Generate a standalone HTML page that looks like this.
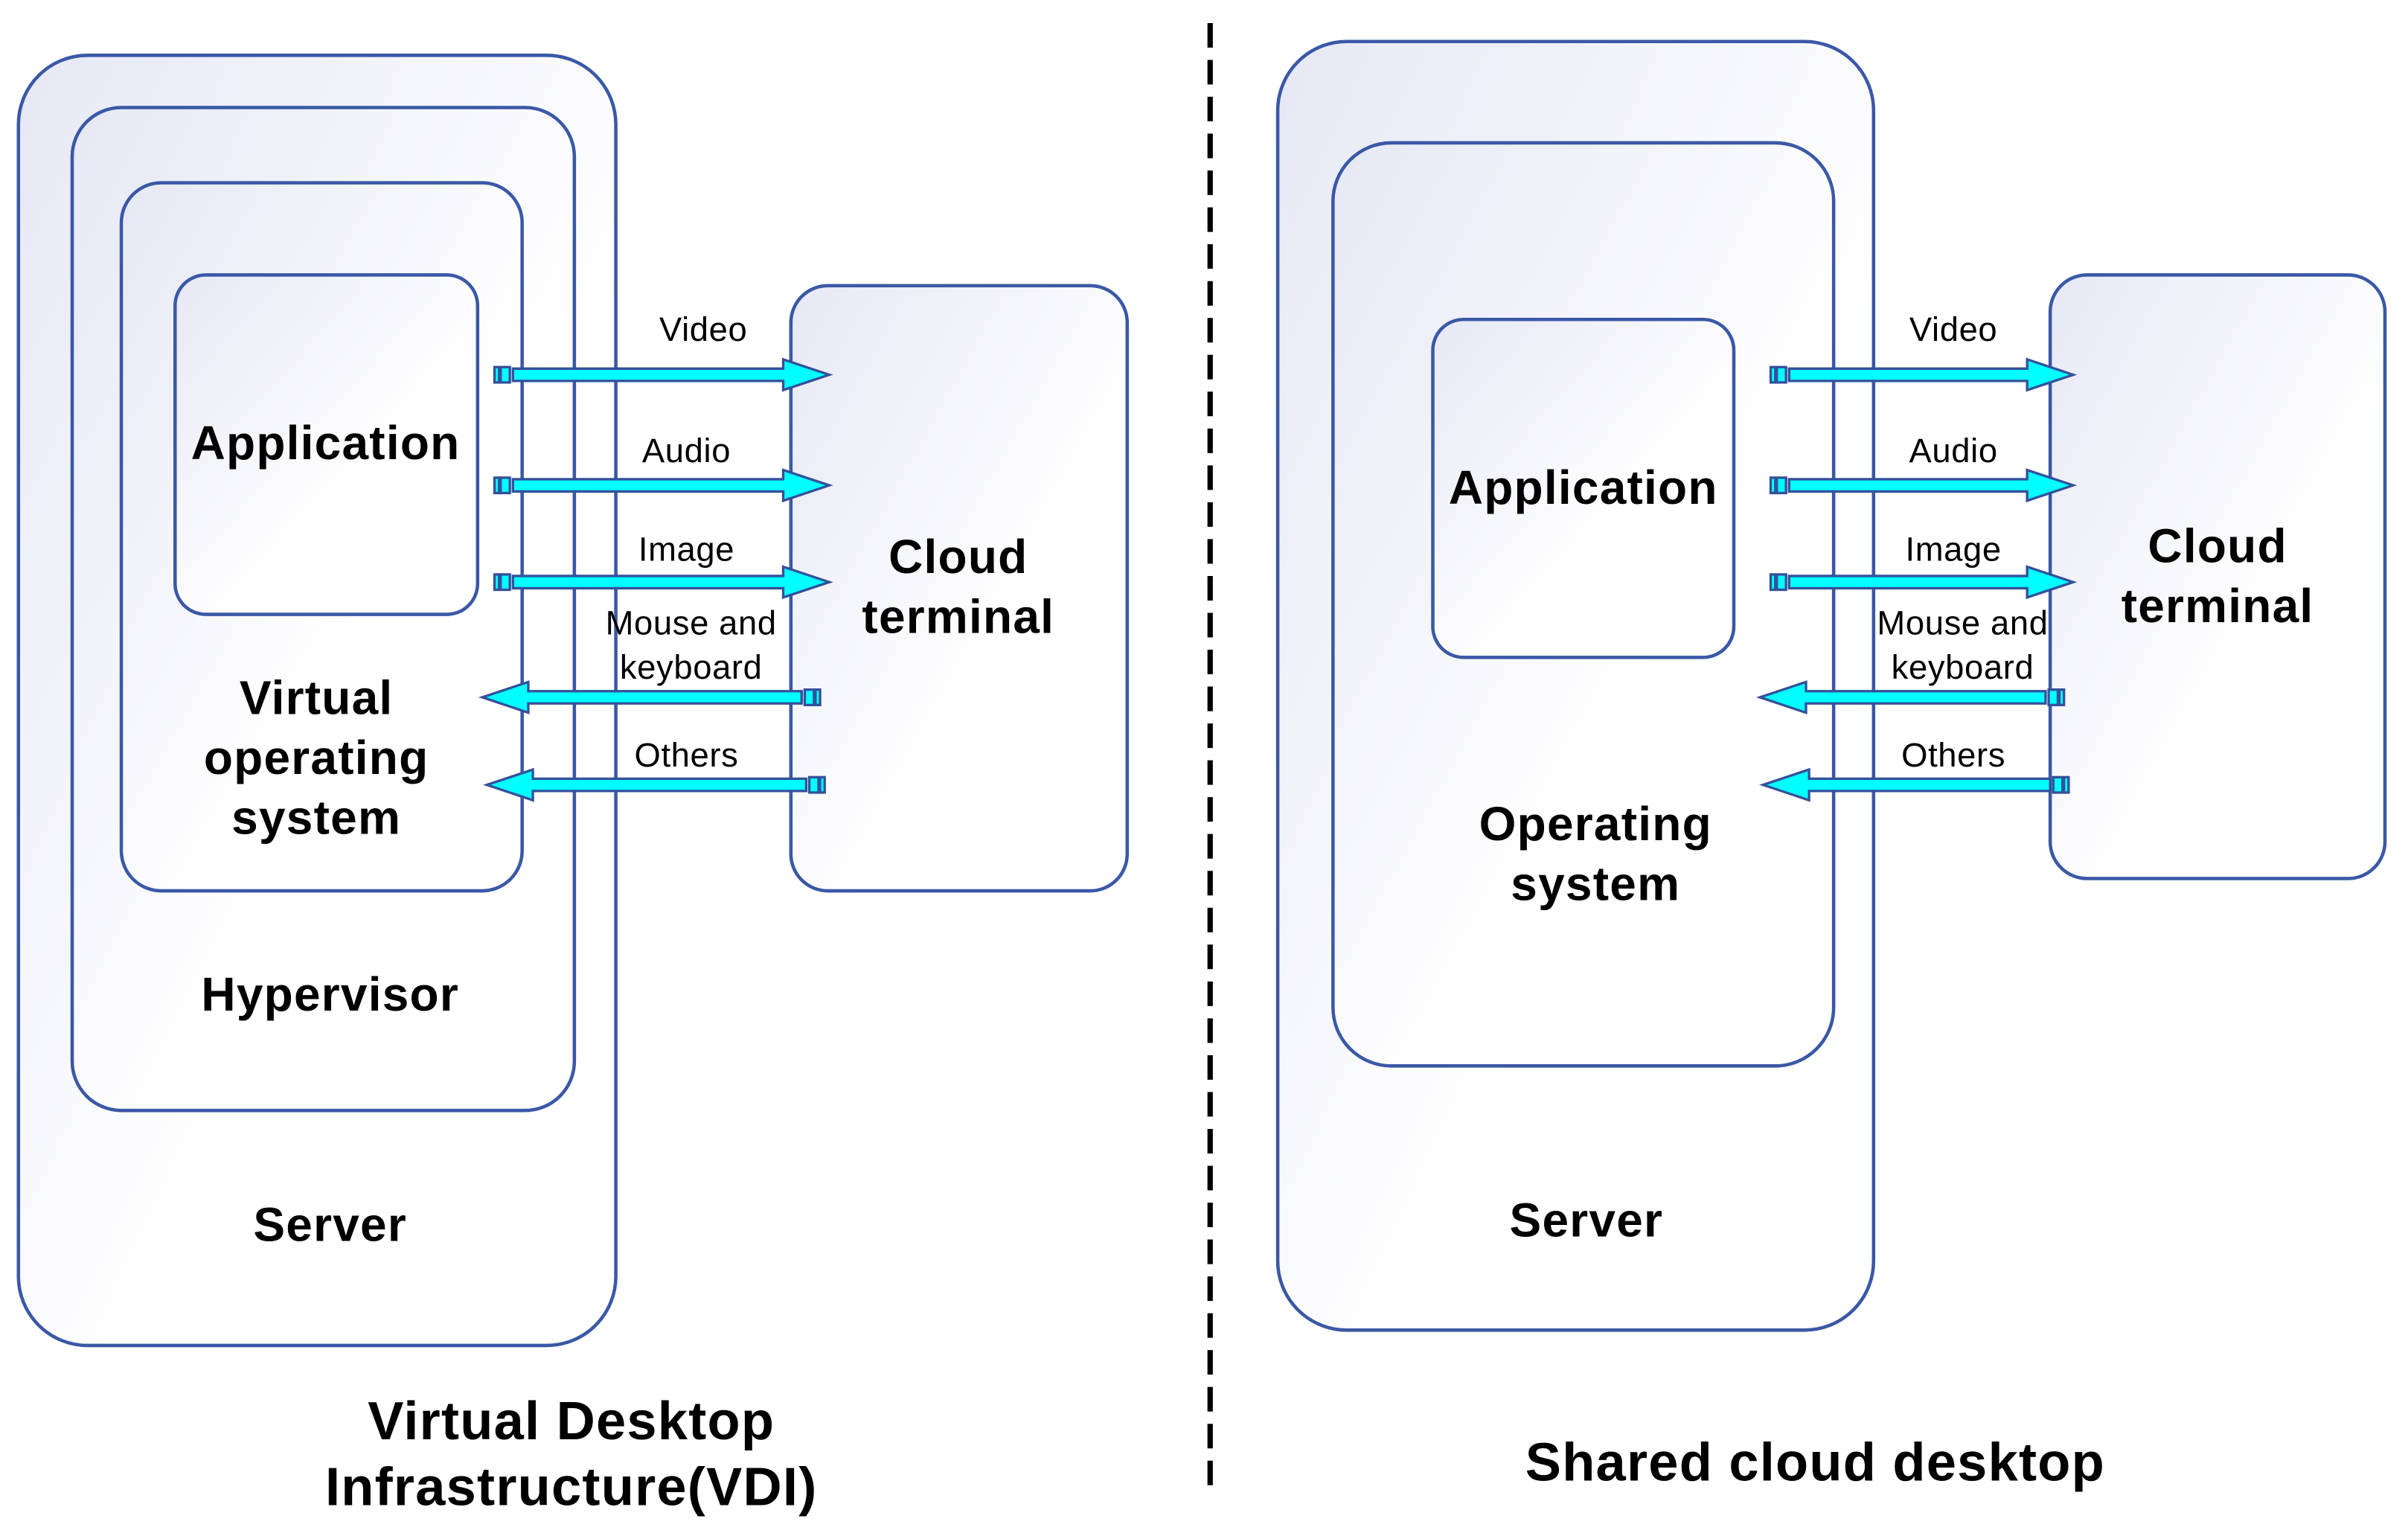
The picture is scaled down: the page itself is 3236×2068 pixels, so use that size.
<!DOCTYPE html>
<html><head><meta charset="utf-8"><style>
html,body{margin:0;padding:0;background:#fff;}
svg{display:block;}
text{font-family:"Liberation Sans",Arial,sans-serif;fill:#000;text-anchor:middle;}
.b{font-weight:bold;font-size:31px;letter-spacing:0.6px;}
.l{font-size:22px;letter-spacing:0.3px;}
.t{font-weight:bold;font-size:35px;letter-spacing:0.6px;}
</style></head><body>
<svg width="3236" height="2068" viewBox="0 0 1568 1002" preserveAspectRatio="none" xmlns="http://www.w3.org/2000/svg">
<defs>
<linearGradient id="g" x1="0" y1="0" x2="0.6" y2="0.6">
<stop offset="0" stop-color="#e6e8f4"/><stop offset="1" stop-color="#ffffff"/>
</linearGradient>
</defs>
<g fill="url(#g)" stroke="#3a58a6" stroke-width="2.2">
<rect x="12" y="36" width="389" height="840" rx="45"/>
<rect x="47" y="70" width="327" height="653" rx="32"/>
<rect x="79" y="119" width="261" height="461" rx="26"/>
<rect x="114" y="179" width="197" height="221" rx="20"/>
<rect x="515" y="186" width="219" height="394" rx="24"/>
<rect x="832" y="27" width="388" height="839" rx="45"/>
<rect x="868" y="93" width="326" height="601" rx="38"/>
<rect x="933" y="208" width="196" height="220" rx="20"/>
<rect x="1335" y="179" width="218" height="393" rx="24"/>
</g>
<line x1="788" y1="15" x2="788" y2="970" stroke="#000" stroke-width="3.5" stroke-dasharray="16,8"/>
<g fill="#00ffff" stroke="#34509a" stroke-width="1.6">
<path d="M334,240 H510 V234 L540,244 L510,254 V248 H334 Z"/><rect x="322" y="239" width="3" height="10"/><rect x="326" y="239" width="6" height="10"/>
<path d="M334,312 H510 V306 L540,316 L510,326 V320 H334 Z"/><rect x="322" y="311" width="3" height="10"/><rect x="326" y="311" width="6" height="10"/>
<path d="M334,375 H510 V369 L540,379 L510,389 V383 H334 Z"/><rect x="322" y="374" width="3" height="10"/><rect x="326" y="374" width="6" height="10"/>
<path d="M522,450 H344 V444 L314,454 L344,464 V458 H522 Z"/><rect x="524" y="449" width="6" height="10"/><rect x="531" y="449" width="3" height="10"/>
<path d="M525,507 H347 V501 L317,511 L347,521 V515 H525 Z"/><rect x="527" y="506" width="6" height="10"/><rect x="534" y="506" width="3" height="10"/>
<path d="M1165,240 H1320 V234 L1350,244 L1320,254 V248 H1165 Z"/><rect x="1153" y="239" width="3" height="10"/><rect x="1157" y="239" width="6" height="10"/>
<path d="M1165,312 H1320 V306 L1350,316 L1320,326 V320 H1165 Z"/><rect x="1153" y="311" width="3" height="10"/><rect x="1157" y="311" width="6" height="10"/>
<path d="M1165,375 H1320 V369 L1350,379 L1320,389 V383 H1165 Z"/><rect x="1153" y="374" width="3" height="10"/><rect x="1157" y="374" width="6" height="10"/>
<path d="M1332,450 H1176 V444 L1146,454 L1176,464 V458 H1332 Z"/><rect x="1334" y="449" width="6" height="10"/><rect x="1341" y="449" width="3" height="10"/>
<path d="M1335,507 H1178 V501 L1148,511 L1178,521 V515 H1335 Z"/><rect x="1337" y="506" width="6" height="10"/><rect x="1344" y="506" width="3" height="10"/>
</g>
<text class="b" x="212" y="299">Application</text>
<text class="b" x="206" y="465">Virtual</text>
<text class="b" x="206" y="504">operating</text>
<text class="b" x="206" y="543">system</text>
<text class="b" x="215" y="658">Hypervisor</text>
<text class="b" x="215" y="808">Server</text>
<text class="b" x="624" y="373">Cloud</text>
<text class="b" x="624" y="412">terminal</text>
<text class="l" x="458" y="222">Video</text>
<text class="l" x="447" y="301">Audio</text>
<text class="l" x="447" y="365">Image</text>
<text class="l" x="450" y="413">Mouse and</text>
<text class="l" x="450" y="442">keyboard</text>
<text class="l" x="447" y="499">Others</text>
<text class="t" x="372" y="937">Virtual Desktop</text>
<text class="t" x="372" y="980">Infrastructure(VDI)</text>
<text class="b" x="1031" y="328">Application</text>
<text class="b" x="1039" y="547">Operating</text>
<text class="b" x="1039" y="586">system</text>
<text class="b" x="1033" y="805">Server</text>
<text class="b" x="1444" y="366">Cloud</text>
<text class="b" x="1444" y="405">terminal</text>
<text class="l" x="1272" y="222">Video</text>
<text class="l" x="1272" y="301">Audio</text>
<text class="l" x="1272" y="365">Image</text>
<text class="l" x="1278" y="413">Mouse and</text>
<text class="l" x="1278" y="442">keyboard</text>
<text class="l" x="1272" y="499">Others</text>
<text class="t" x="1182" y="964">Shared cloud desktop</text>
</svg>
</body></html>
